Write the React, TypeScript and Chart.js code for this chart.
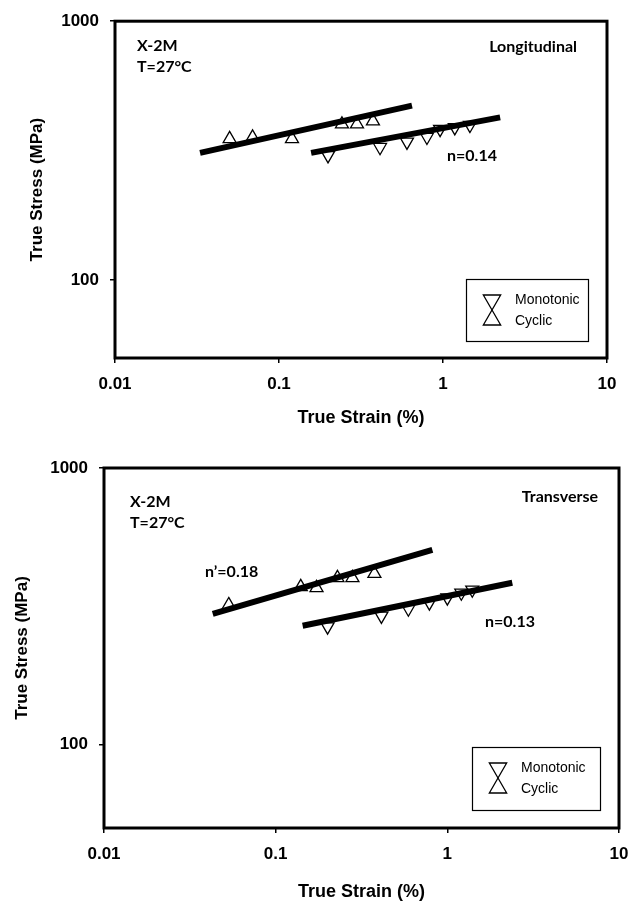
import React, { useEffect, useRef } from "react";
import { Chart, registerables } from "chart.js";

Chart.register(...registerables);

// ---------- shared axis data ----------
const X_TICKS = [0.01, 0.1, 1, 10];
const X_TICK_LABELS = ["0.01", "0.1", "1", "10"];
const Y_TICKS = [100, 1000];
const Y_TICK_LABELS = ["100", "1000"];
const X_MIN = 0.01;
const X_MAX = 10;
const Y_MIN = 50;
const Y_MAX = 1000;

// ---------- Longitudinal panel ----------
const LONG_MONO_STRAIN = [0.199, 0.413, 0.603, 0.798, 0.96, 1.18, 1.46];
const LONG_MONO_STRESS = [303, 326, 342, 357, 383, 389, 397];
const LONG_CYC_STRAIN = [0.050, 0.069, 0.120, 0.242, 0.299, 0.374];
const LONG_CYC_STRESS = [351, 356, 351, 400, 400, 411];
const LONG_MONO_FIT_STRAIN = [0.157, 2.23];
const LONG_MONO_FIT_STRESS = [310, 425];
const LONG_CYC_FIT_STRAIN = [0.033, 0.647];
const LONG_CYC_FIT_STRESS = [310, 472];

// ---------- Transverse panel ----------
const TRANS_MONO_STRAIN = [0.2006, 0.413, 0.593, 0.786, 1.0, 1.206, 1.397];
const TRANS_MONO_STRESS = [267, 292, 310, 326, 340, 354, 363];
const TRANS_CYC_STRAIN = [0.0533, 0.14, 0.173, 0.229, 0.28, 0.376];
const TRANS_CYC_STRESS = [320, 372, 369, 401, 401, 415];
const TRANS_MONO_FIT_STRAIN = [0.1436, 2.39];
const TRANS_MONO_FIT_STRESS = [269, 385];
const TRANS_CYC_FIT_STRAIN = [0.043, 0.818];
const TRANS_CYC_FIT_STRESS = [297, 506];

const SERIES_LABELS = ["Monotonic", "Cyclic"];
const X_TITLE = "True Strain (%)";
const Y_TITLE = "True Stress (MPa)";

const SANS = "'Liberation Sans', Arial, sans-serif";
const CAL = "Lato, 'Open Sans', sans-serif";

type Txt = { text: string; dx: number; dy: number; right?: boolean };

type Panel = {
  top: number;
  height: number;
  padTop: number;
  padRight: number;
  yAxisWidth: number;
  xAxisHeight: number;
  yTitlePad: number;
  xTitlePad: number;
  monoX: number[];
  monoY: number[];
  cycX: number[];
  cycY: number[];
  fitMX: number[];
  fitMY: number[];
  fitCX: number[];
  fitCY: number[];
  texts: Txt[];
  legendW: number;
  legendH: number;
  legendRight: number;
  legendBottom: number;
};

const zip = (xs: number[], ys: number[]) => xs.map((x, i) => ({ x, y: ys[i] }));

const PANELS: Panel[] = [
  {
    top: 0,
    height: 440,
    padTop: 15,
    padRight: 33,
    yAxisWidth: 115,
    xAxisHeight: 82,
    yTitlePad: 27,
    xTitlePad: 11,
    monoX: LONG_MONO_STRAIN,
    monoY: LONG_MONO_STRESS,
    cycX: LONG_CYC_STRAIN,
    cycY: LONG_CYC_STRESS,
    fitMX: LONG_MONO_FIT_STRAIN,
    fitMY: LONG_MONO_FIT_STRESS,
    fitCX: LONG_CYC_FIT_STRAIN,
    fitCY: LONG_CYC_FIT_STRESS,
    texts: [
      { text: "X-2M", dx: 22, dy: 25 },
      { text: "T=27°C", dx: 22, dy: 46 },
      { text: "Longitudinal", dx: 30, dy: 26, right: true },
      { text: "n=0.14", dx: 332, dy: 135 },
    ],
    legendW: 122,
    legendH: 62,
    legendRight: 19,
    legendBottom: 17,
  },
  {
    top: 440,
    height: 463,
    padTop: 28,
    padRight: 21,
    yAxisWidth: 104,
    xAxisHeight: 75,
    yTitlePad: 12,
    xTitlePad: 0,
    monoX: TRANS_MONO_STRAIN,
    monoY: TRANS_MONO_STRESS,
    cycX: TRANS_CYC_STRAIN,
    cycY: TRANS_CYC_STRESS,
    fitMX: TRANS_MONO_FIT_STRAIN,
    fitMY: TRANS_MONO_FIT_STRESS,
    fitCX: TRANS_CYC_FIT_STRAIN,
    fitCY: TRANS_CYC_FIT_STRESS,
    texts: [
      { text: "X-2M", dx: 26, dy: 34 },
      { text: "T=27°C", dx: 26, dy: 55 },
      { text: "Transverse", dx: 21, dy: 29, right: true },
      { text: "n\u2019=0.18", dx: 101, dy: 104 },
      { text: "n=0.13", dx: 381, dy: 154 },
    ],
    legendW: 128,
    legendH: 63,
    legendRight: 19,
    legendBottom: 18,
  },
];

function tri(ctx: CanvasRenderingContext2D, x: number, y: number, r: number, down: boolean) {
  let rad = down ? Math.PI : 0;
  ctx.beginPath();
  ctx.moveTo(x + Math.sin(rad) * r, y - Math.cos(rad) * r);
  rad += (2 * Math.PI) / 3;
  ctx.lineTo(x + Math.sin(rad) * r, y - Math.cos(rad) * r);
  rad += (2 * Math.PI) / 3;
  ctx.lineTo(x + Math.sin(rad) * r, y - Math.cos(rad) * r);
  ctx.closePath();
  ctx.stroke();
}

function PanelChart({ p }: { p: Panel }) {
  const ref = useRef<HTMLCanvasElement>(null);
  useEffect(() => {
    const decor = {
      id: "decor",
      afterDraw(chart: any) {
        const { ctx, chartArea: a } = chart;
        ctx.save();
        ctx.strokeStyle = "#000";
        ctx.lineWidth = 3;
        ctx.strokeRect(a.left, a.top, a.right - a.left, a.bottom - a.top);
        ctx.fillStyle = "#000";
        ctx.textBaseline = "middle";
        ctx.font = `bold 16px ${CAL}`;
        for (const t of p.texts) {
          ctx.textAlign = t.right ? "right" : "left";
          const x = t.right ? a.right - t.dx : a.left + t.dx;
          ctx.fillText(t.text, x, a.top + t.dy);
        }
        // legend
        const bx = a.right - p.legendRight - p.legendW;
        const by = a.bottom - p.legendBottom - p.legendH;
        ctx.lineWidth = 1.2;
        ctx.strokeRect(bx + 0.5, by + 0.5, p.legendW, p.legendH);
        const sx = bx + 26;
        const sy = by + 21;
        ctx.lineWidth = 1.3;
        tri(ctx, sx, sy, 10, true);
        tri(ctx, sx, sy + 20, 10, false);
        ctx.font = `14px ${SANS}`;
        ctx.textAlign = "left";
        const ds = chart.data.datasets;
        ctx.fillText(ds[0].label, bx + 49, sy);
        ctx.fillText(ds[1].label, bx + 49, sy + 21);
        ctx.restore();
      },
    };

    const tickFont = { family: SANS, size: 17, weight: "bold" as const };
    const titleFont = { family: SANS, size: 18, weight: "bold" as const };

    const chart = new Chart(ref.current!, {
      type: "scatter",
      data: {
        datasets: [
          {
            label: SERIES_LABELS[0],
            data: zip(p.monoX, p.monoY),
            pointStyle: "triangle",
            rotation: 180,
            pointRadius: 7.5,
            borderColor: "#000",
            backgroundColor: "rgba(0,0,0,0)",
            borderWidth: 1.3,
            showLine: false,
          },
          {
            label: SERIES_LABELS[1],
            data: zip(p.cycX, p.cycY),
            pointStyle: "triangle",
            rotation: 0,
            pointRadius: 7.5,
            borderColor: "#000",
            backgroundColor: "rgba(0,0,0,0)",
            borderWidth: 1.3,
            showLine: false,
          },
          {
            label: "fit-monotonic",
            data: zip(p.fitMX, p.fitMY),
            showLine: true,
            pointRadius: 0,
            borderColor: "#000",
            borderWidth: 6,
          },
          {
            label: "fit-cyclic",
            data: zip(p.fitCX, p.fitCY),
            showLine: true,
            pointRadius: 0,
            borderColor: "#000",
            borderWidth: 6,
          },
        ],
      } as any,
      options: {
        animation: false,
        responsive: false,
        maintainAspectRatio: false,
        devicePixelRatio: 1,
        layout: { padding: { top: p.padTop, right: p.padRight, bottom: 0, left: 0 } },
        plugins: { legend: { display: false }, tooltip: { enabled: false } },
        scales: {
          x: {
            type: "logarithmic",
            min: X_MIN,
            max: X_MAX,
            afterBuildTicks: (s: any) => {
              s.ticks = X_TICKS.map((v) => ({ value: v }));
            },
            afterFit: (s: any) => {
              s.height = p.xAxisHeight;
            },
            ticks: {
              callback: (_v: any, i: number) => X_TICK_LABELS[i],
              font: tickFont,
              color: "#000",
              padding: 11,
              maxRotation: 0,
              autoSkip: false,
            },
            grid: { drawOnChartArea: false, drawTicks: true, tickLength: 5, color: "#000", lineWidth: 1.5 },
            border: { display: false },
            title: { display: true, text: X_TITLE, font: titleFont, color: "#000", padding: { top: 0, bottom: p.xTitlePad } },
          },
          y: {
            type: "logarithmic",
            min: Y_MIN,
            max: Y_MAX,
            afterBuildTicks: (s: any) => {
              s.ticks = Y_TICKS.map((v) => ({ value: v }));
            },
            afterFit: (s: any) => {
              s.width = p.yAxisWidth;
            },
            ticks: {
              callback: (_v: any, i: number) => Y_TICK_LABELS[i],
              font: tickFont,
              color: "#000",
              padding: 11,
              autoSkip: false,
            },
            grid: { drawOnChartArea: false, drawTicks: true, tickLength: 5, color: "#000", lineWidth: 1.5 },
            border: { display: false },
            title: { display: true, text: Y_TITLE, font: { family: SANS, size: 17, weight: "bold" }, color: "#000", padding: { top: p.yTitlePad, bottom: 0 } },
          },
        },
      } as any,
      plugins: [decor],
    });
    return () => chart.destroy();
  }, []);
  return (
    <canvas
      ref={ref}
      width={640}
      height={p.height}
      style={{ position: "absolute", left: 0, top: p.top, width: 640, height: p.height, display: "block" }}
    />
  );
}

export default function App() {
  return (
    <div style={{ position: "absolute", left: 0, top: 0, width: 640, height: 903, background: "#fff" }}>
      {PANELS.map((p, i) => (
        <PanelChart key={i} p={p} />
      ))}
    </div>
  );
}
